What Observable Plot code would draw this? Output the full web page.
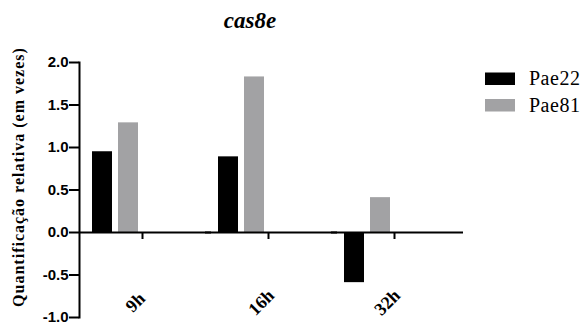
<!DOCTYPE html>
<html>
<head>
<meta charset="utf-8">
<script src="https://cdn.jsdelivr.net/npm/d3@7"></script>
<script src="https://cdn.jsdelivr.net/npm/@observablehq/plot@0.6"></script>
</head>
<body style="margin:0">
<svg id="main" width="587" height="324" xmlns="http://www.w3.org/2000/svg">
  <text x="250" y="28" text-anchor="middle" font-family="Liberation Serif" font-style="italic" font-weight="bold" font-size="23" fill="#000">cas8e</text>
  <text transform="translate(24,177) rotate(-90)" text-anchor="middle" font-family="Liberation Serif" font-weight="bold" font-size="16" letter-spacing="1" fill="#000">Quantificação relativa (em vezes)</text>
  <g id="legend"></g>
</svg>
<script>
const groups = ["9h", "16h", "32h"];
const series = ["Pae22", "Pae81"];
const pae22 = [0.95, 0.89, -0.59];
const pae81 = [1.29, 1.83, 0.41];
const colors = ["#000000", "#a2a2a4"];
const yTicks = [-1, -0.5, 0, 0.5, 1, 1.5, 2];

const values = {Pae22: pae22, Pae81: pae81};
const data = groups.flatMap((g, i) => series.map(s => ({group: g, series: s, value: values[s][i]})));

const SERIF = "Liberation Serif";
const SANS = "Liberation Sans";

// legend (from the series array)
const leg = d3.select("#legend");
series.forEach((s, i) => {
  const y0 = 72.5 + i * 26.5;
  leg.append("rect").attr("x", 485).attr("y", y0).attr("width", 30).attr("height", 12.5).attr("fill", colors[i]);
  leg.append("text").attr("x", 529).attr("y", y0 + 12.5).attr("text-anchor", "start")
    .attr("font-family", SERIF).attr("font-size", 20).attr("letter-spacing", 0.5)
    .attr("fill", "#000").text(s);
});

const chart = Plot.plot({
  width: 587,
  height: 324,
  marginLeft: 78,
  marginRight: 129.5,
  marginTop: 62,
  marginBottom: 7,
  fx: {domain: groups, padding: 0, axis: null, label: null},
  x: {domain: series, paddingInner: 0.222, paddingOuter: 1.4535, align: 0.1656, axis: null},
  y: {domain: [-1, 2], axis: null},
  color: {domain: series, range: colors},
  marks: [
    Plot.barY(data, {fx: "group", x: "series", y: "value", fill: "series"}),
    Plot.ruleY([0], {stroke: "#000", strokeWidth: 2, insetRight: -6}),
    Plot.ruleX(groups, {fx: d => d, x: null, y1: 0, y2: 0, insetBottom: -7, stroke: "#000", strokeWidth: 2}),
    Plot.text(groups, {fx: d => d, text: d => d, frameAnchor: "bottom", rotate: -45, dx: -3, dy: -11,
      fontFamily: SERIF, fontWeight: "bold", fontSize: 18, fill: "#000"}),
    Plot.frame({anchor: "left", facetAnchor: "left", stroke: "#000", strokeWidth: 2}),
    Plot.axisY({ticks: yTicks, tickFormat: d => d.toFixed(1), tickSize: 10, tickPadding: 1,
      fontSize: 15, fontWeight: "bold", fontFamily: SANS, stroke: "#000", strokeWidth: 2, fill: "#000", label: null})
  ]
});
chart.setAttribute("x", 0);
chart.setAttribute("y", 0);
chart.setAttribute("width", 587);
chart.setAttribute("height", 324);
document.getElementById("main").appendChild(chart);
</script>
</body>
</html>
